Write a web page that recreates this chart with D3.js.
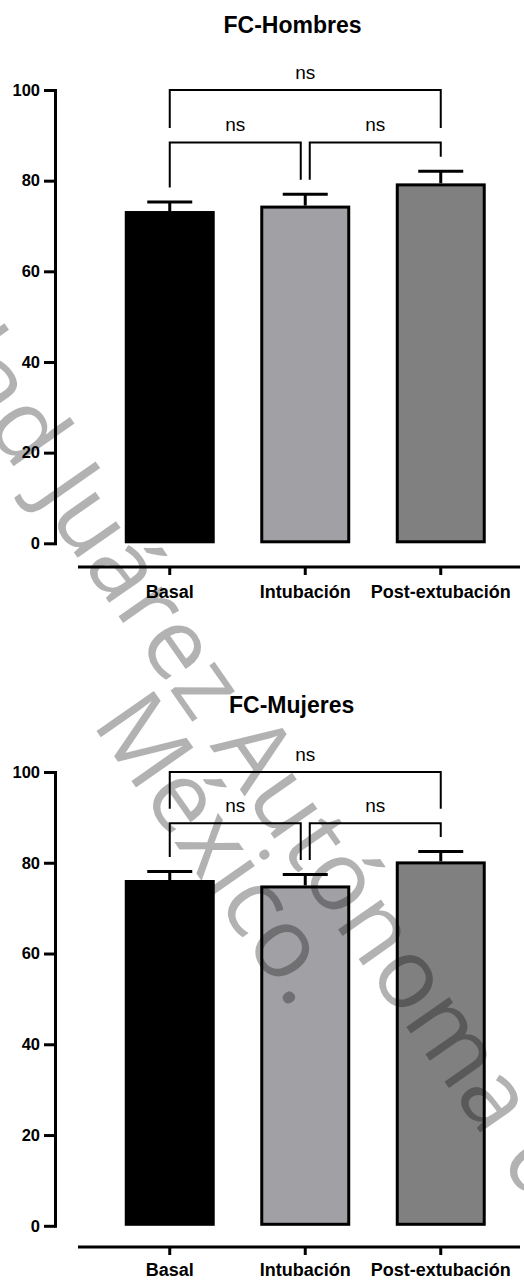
<!DOCTYPE html>
<html>
<head>
<meta charset="utf-8">
<script src="https://cdn.jsdelivr.net/npm/d3@7/dist/d3.min.js"></script>
<style>
  html, body { margin: 0; padding: 0; background: #ffffff; }
  svg { display: block; }
</style>
</head>
<body>
<script>
// Heart rate (FC) by stage, mean with SEM, men and women
const categories = ["Basal", "Intubación", "Post-extubación"];
const hombresMean = [73.3, 74.5, 79.4];
const hombresSem = [2.0, 2.5, 2.7];
const mujeresMean = [76.2, 75.0, 80.3];
const mujeresSem = [1.9, 2.4, 2.2];
const barFills = ["#000000", "#a1a1a5", "#808080"];
const yTicks = [0, 20, 40, 60, 80, 100];
const titles = ["FC-Hombres", "FC-Mujeres"];

// Pairwise comparisons (bar index pairs), their label and bracket height
const comparisons = [[0, 1], [1, 2], [0, 2]];
const comparisonLabels = ["ns", "ns", "ns"];
const hombresBracketY = [88.4, 88.4, 100];
const mujeresBracketY = [88.7, 88.7, 100];

const wmLines = ["Universidad Juárez Autónoma de Tabasco.", "México."];

const W = 524, H = 1280;
const FONT = "'Liberation Sans', Arial, Helvetica, sans-serif";

const svg = d3.select("body").append("svg")
  .attr("width", W).attr("height", H)
  .style("font-family", FONT);

const panels = [
  { title: titles[0], mean: hombresMean, sem: hombresSem, bracketY: hombresBracketY,
    titleX: 292.5, titleY: 33, yTop: 90, yBottom: 543.3, xAxisY: 567, labelPad: 10 },
  { title: titles[1], mean: mujeresMean, sem: mujeresSem, bracketY: mujeresBracketY,
    titleX: 291.6, titleY: 712.7, yTop: 772, yBottom: 1225.8, xAxisY: 1247, labelPad: 8 }
];

function drawPanel(p) {
  const g = svg.append("g");

  const x = d3.scaleBand()
    .domain(categories)
    .range([102, 508.5])
    .paddingInner(0.336)
    .paddingOuter(0.168);
  const bw = x.bandwidth();
  const cx = i => x(categories[i]) + bw / 2;

  const y = d3.scaleLinear().domain([0, 100]).range([p.yBottom, p.yTop]);

  // title
  g.append("text")
    .attr("x", p.titleX).attr("y", p.titleY)
    .attr("text-anchor", "middle")
    .style("font-size", "23px").style("font-weight", "bold")
    .text(p.title);

  // bars
  const data = categories.map((c, i) => ({ c, i, m: p.mean[i], s: p.sem[i] }));
  g.selectAll("rect.bar").data(data).join("rect")
    .attr("class", "bar")
    .attr("x", d => x(d.c) + 1.5)
    .attr("width", bw - 3)
    .attr("y", d => y(d.m) + 1.5)
    .attr("height", d => y(0) - y(d.m) - 3)
    .attr("fill", d => barFills[d.i])
    .attr("stroke", "#000")
    .attr("stroke-width", 3);

  // error bars (upper SEM)
  const eb = g.selectAll("g.err").data(data).join("g").attr("class", "err")
    .attr("stroke", "#000").attr("stroke-width", 3);
  eb.append("line")
    .attr("x1", d => cx(d.i)).attr("x2", d => cx(d.i))
    .attr("y1", d => y(d.m)).attr("y2", d => y(d.m + d.s));
  eb.append("line")
    .attr("x1", d => cx(d.i) - bw / 4).attr("x2", d => cx(d.i) + bw / 4)
    .attr("y1", d => y(d.m + d.s)).attr("y2", d => y(d.m + d.s));

  // y axis
  const yAxis = g.append("g")
    .attr("transform", "translate(55,0)")
    .call(d3.axisLeft(y).tickValues(yTicks).tickSize(11).tickSizeOuter(0).tickPadding(4));
  yAxis.select(".domain").attr("stroke-width", 3).attr("stroke-linecap", "square");
  yAxis.selectAll(".tick line").attr("stroke-width", 3);
  yAxis.selectAll(".tick text")
    .style("font-size", "16.5px").style("font-weight", "bold").style("font-family", FONT)
    .attr("fill", "#000");

  // x axis
  const xAxis = g.append("g")
    .attr("transform", `translate(0,${p.xAxisY})`)
    .call(d3.axisBottom(x).tickSize(8).tickSizeOuter(0).tickPadding(p.labelPad));
  xAxis.select(".domain").remove();
  xAxis.append("line")
    .attr("x1", 78).attr("x2", 520).attr("y1", 0).attr("y2", 0)
    .attr("stroke", "#000").attr("stroke-width", 3);
  xAxis.selectAll(".tick line").attr("stroke-width", 3);
  xAxis.selectAll(".tick text")
    .style("font-size", "18px").style("font-weight", "bold").style("font-family", FONT)
    .attr("fill", "#000");

  // significance brackets
  const gap = 4.5, legGap = 14.5;
  comparisons.forEach(([i, j], k) => {
    const level = p.bracketY[k];
    const yk = y(level);
    const touchesLeft = comparisons.some(([a, b], m) => m !== k && p.bracketY[m] === level && b === i);
    const touchesRight = comparisons.some(([a, b], m) => m !== k && p.bracketY[m] === level && a === j);
    const lx = cx(i) + (touchesLeft ? gap : 0);
    const rx = cx(j) - (touchesRight ? gap : 0);
    const legEnd = b => {
      let top = y(p.mean[b] + p.sem[b]);
      comparisons.forEach(([a, c], m) => {
        if (p.bracketY[m] < level && a <= b && b <= c) top = Math.min(top, y(p.bracketY[m]));
      });
      return top - legGap;
    };
    g.append("path")
      .attr("d", `M${lx},${legEnd(i)}V${yk}H${rx}V${legEnd(j)}`)
      .attr("fill", "none").attr("stroke", "#000").attr("stroke-width", 2);
    g.append("text")
      .attr("x", (lx + rx) / 2).attr("y", yk - 11.5)
      .attr("text-anchor", "middle")
      .style("font-size", "19px")
      .text(comparisonLabels[k]);
  });
}

panels.forEach(drawPanel);

// diagonal watermark over the charts
const wm = svg.append("g")
  .attr("transform", "translate(33,494) rotate(55)")
  .attr("fill", "#000").attr("fill-opacity", 0.3)
  .style("font-family", "'Open Sans', sans-serif")
  .style("font-size", "98px")
  .style("font-weight", 400);
const t1 = wm.append("text").text(wmLines[0]);
const lead = t1.node().getSubStringLength(0, wmLines[0].indexOf("J"));
t1.attr("x", -lead);
wm.append("text")
  .attr("x", 572).attr("y", 84)
  .attr("text-anchor", "end")
  .text(wmLines[1]);
</script>
</body>
</html>
